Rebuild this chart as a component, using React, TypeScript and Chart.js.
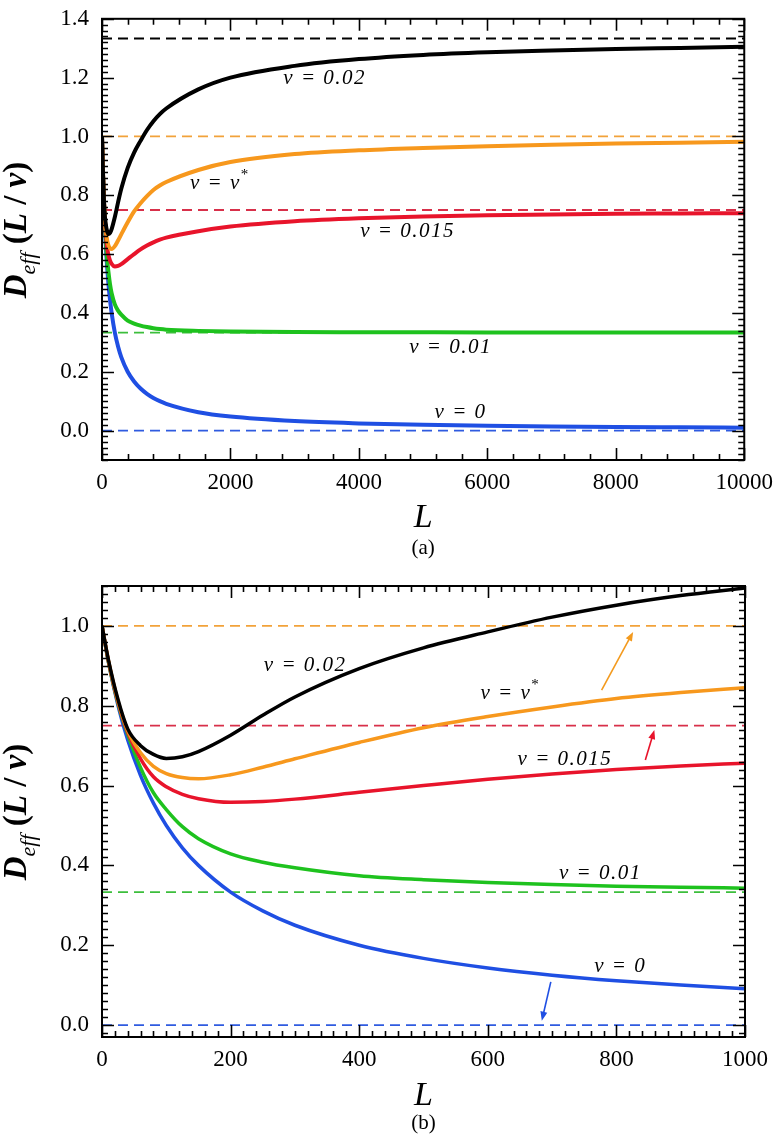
import React, { useEffect, useRef } from 'react';
import { Chart, registerables } from 'chart.js';

Chart.register(...registerables);

if (typeof document !== 'undefined') {
  document.body.style.margin = '0';
  document.body.style.overflow = 'hidden';
  document.body.style.background = '#ffffff';
}

const FONT = '"Liberation Serif", "Times New Roman", serif';

// L values (x) at which the curves were read
const L = [0, 10, 25, 40, 60, 80, 100, 125, 150, 200, 250, 300, 400, 500, 600, 700, 800, 900, 1000, 1500, 2000, 3000, 4000, 5000, 6000, 7000, 8000, 9000, 10000];

// D_eff(L / v) for each v
const nu002 = [1.0, 0.915, 0.815, 0.742, 0.700, 0.678, 0.668, 0.672, 0.685, 0.726, 0.776, 0.822, 0.893, 0.945, 0.985, 1.022, 1.052, 1.076, 1.095, 1.160, 1.200, 1.240, 1.263, 1.277, 1.286, 1.292, 1.297, 1.301, 1.305];
const nuStar = [1.0, 0.913, 0.811, 0.738, 0.682, 0.648, 0.630, 0.620, 0.617, 0.627, 0.646, 0.667, 0.708, 0.745, 0.773, 0.797, 0.818, 0.833, 0.845, 0.886, 0.913, 0.940, 0.953, 0.961, 0.967, 0.972, 0.976, 0.979, 0.982];
const nu0015 = [1.0, 0.912, 0.808, 0.733, 0.667, 0.622, 0.597, 0.578, 0.567, 0.558, 0.560, 0.566, 0.583, 0.600, 0.616, 0.629, 0.640, 0.649, 0.656, 0.678, 0.694, 0.712, 0.722, 0.728, 0.732, 0.735, 0.737, 0.738, 0.739];
const nu001 = [1.0, 0.910, 0.805, 0.728, 0.645, 0.582, 0.540, 0.497, 0.467, 0.429, 0.408, 0.394, 0.374, 0.364, 0.357, 0.352, 0.348, 0.345, 0.343, 0.339, 0.337, 0.335, 0.3345, 0.334, 0.3337, 0.3335, 0.3334, 0.3334, 0.3333];
const nu0 = [1.0, 0.909, 0.800, 0.714, 0.625, 0.556, 0.500, 0.444, 0.400, 0.333, 0.286, 0.250, 0.200, 0.167, 0.143, 0.125, 0.111, 0.100, 0.091, 0.0625, 0.0476, 0.0323, 0.0244, 0.0196, 0.0164, 0.0141, 0.0123, 0.0110, 0.0099];

const seriesValues = [nu002, nuStar, nu0015, nu001, nu0];
const seriesNames = ['ν = 0.02', 'ν = ν*', 'ν = 0.015', 'ν = 0.01', 'ν = 0'];
// long-L limits (dashed lines)
const asymptotes = [1.333, 1.0, 0.75, 0.333, 0.0];

const lineColors = ['#000000', '#F7981D', '#E8142B', '#1EC21E', '#1F4FE3'];
const dashColors = ['#000000', '#F2A23A', '#D8304A', '#3CBE3C', '#2F5BE0'];

const xTicksA = [0, 2000, 4000, 6000, 8000, 10000];
const yTicksA = [0, 0.2, 0.4, 0.6, 0.8, 1.0, 1.2, 1.4];
const xTicksB = [0, 200, 400, 600, 800, 1000];
const yTicksB = [0, 0.2, 0.4, 0.6, 0.8, 1.0];

type Panel = {
  xMax: number; yMin: number; yMax: number;
  xMajor: number; xMinor: number; yMajor: number; yMinor: number;
  xTicks: number[]; yTicks: number[];
  lineWidth: number; width: number; height: number; padTop: number; axisH: number;
  caption: string; titleBase: number; captionBase: number; yTitleCy: number;
  labelPos: number[][];
  arrows: { from: number[]; to: number[]; color: string }[];
};

const panelA: Panel = {
  xMax: 10000, yMin: -0.1, yMax: 1.4, xMajor: 2000, xMinor: 400, yMajor: 0.2, yMinor: 0.02,
  xTicks: xTicksA, yTicks: yTicksA, lineWidth: 4, width: 776, height: 560, padTop: 8, axisH: 100,
  caption: '(a)', titleBase: 527, captionBase: 554, yTitleCy: 230,
  labelPos: [[3468, 1.198], [1835, 0.839], [4759, 0.676], [5428, 0.284], [5583, 0.061]],
  arrows: [],
};

const panelB: Panel = {
  xMax: 1000, yMin: -0.03, yMax: 1.1, xMajor: 200, xMinor: 20, yMajor: 0.2, yMinor: 0.02,
  xTicks: xTicksB, yTicks: yTicksB, lineWidth: 3.5, width: 776, height: 579, padTop: 26, axisH: 102,
  caption: '(b)', titleBase: 545, captionBase: 569, yTitleCy: 252,
  labelPos: [[316, 0.901], [635, 0.83], [720, 0.665], [775, 0.379], [806, 0.146]],
  arrows: [
    { from: [777, 0.839], to: [826, 0.985], color: '#F39A1E' },
    { from: [845, 0.664], to: [859, 0.739], color: '#E8142B' },
    { from: [698, 0.108], to: [684, 0.011], color: '#1F4FE3' },
  ],
};

function drawYTitle(ctx: CanvasRenderingContext2D, cx: number, cy: number) {
  ctx.save();
  ctx.translate(cx, cy);
  ctx.rotate(-Math.PI / 2);
  ctx.fillStyle = '#000';
  ctx.textBaseline = 'alphabetic';
  ctx.textAlign = 'left';
  const bi = `bold italic 33px ${FONT}`;
  const b = `bold 33px ${FONT}`;
  const parts = [
    { t: 'D', f: bi, dy: 0 },
    { t: 'eff', f: `italic 22px ${FONT}`, dy: 9 },
    { t: ' (', f: b, dy: 0 },
    { t: 'L', f: bi, dy: 0 },
    { t: ' / ', f: b, dy: 0 },
    { t: 'ν', f: bi, dy: 0 },
    { t: ')', f: b, dy: 0 },
  ];
  let total = 0;
  const widths = parts.map((p) => { ctx.font = p.f; const w = ctx.measureText(p.t).width; total += w; return w; });
  let x = -total / 2;
  parts.forEach((p, i) => { ctx.font = p.f; ctx.fillText(p.t, x, p.dy); x += widths[i]; });
  ctx.restore();
}

function makeDecor(p: Panel) {
  return {
    id: 'decor',
    afterDatasetsDraw(chart: any) {
      const { ctx, chartArea: ca } = chart;
      const xs = chart.scales.x;
      const ys = chart.scales.y;
      ctx.save();
      // annotations
      ctx.fillStyle = '#000';
      ctx.textBaseline = 'middle';
      const anyCtx = ctx as any;
      seriesNames.forEach((name, i) => {
        const px = xs.getPixelForValue(p.labelPos[i][0]);
        const py = ys.getPixelForValue(p.labelPos[i][1]);
        anyCtx.letterSpacing = '1.5px';
        if (name.endsWith('*')) {
          const base = name.slice(0, -1);
          ctx.font = `italic 21px ${FONT}`;
          const w = ctx.measureText(base).width;
          ctx.font = `15px ${FONT}`;
          const ws = ctx.measureText('*').width;
          const x0 = px - (w + ws) / 2;
          ctx.textAlign = 'left';
          ctx.font = `italic 21px ${FONT}`;
          ctx.fillText(base, x0, py);
          ctx.font = `15px ${FONT}`;
          ctx.fillText('*', x0 + w, py - 9);
        } else {
          ctx.textAlign = 'center';
          ctx.font = `italic 21px ${FONT}`;
          ctx.fillText(name, px, py);
        }
        anyCtx.letterSpacing = '0px';
      });
      // arrows
      p.arrows.forEach((a) => {
        const x1 = xs.getPixelForValue(a.from[0]);
        const y1 = ys.getPixelForValue(a.from[1]);
        const x2 = xs.getPixelForValue(a.to[0]);
        const y2 = ys.getPixelForValue(a.to[1]);
        const ang = Math.atan2(y2 - y1, x2 - x1);
        ctx.strokeStyle = a.color;
        ctx.fillStyle = a.color;
        ctx.lineWidth = 1.6;
        ctx.beginPath();
        ctx.moveTo(x1, y1);
        ctx.lineTo(x2 - 6 * Math.cos(ang), y2 - 6 * Math.sin(ang));
        ctx.stroke();
        ctx.beginPath();
        ctx.moveTo(x2, y2);
        ctx.lineTo(x2 - 9 * Math.cos(ang) + 3.5 * Math.sin(ang), y2 - 9 * Math.sin(ang) - 3.5 * Math.cos(ang));
        ctx.lineTo(x2 - 9 * Math.cos(ang) - 3.5 * Math.sin(ang), y2 - 9 * Math.sin(ang) + 3.5 * Math.cos(ang));
        ctx.closePath();
        ctx.fill();
      });
      // ticks (inward, all four sides)
      ctx.strokeStyle = '#000';
      ctx.lineWidth = 1.6;
      ctx.beginPath();
      const kx1 = Math.floor(p.xMax / p.xMinor + 1e-9);
      for (let k = 0; k <= kx1; k++) {
        const v = k * p.xMinor;
        const r = v / p.xMajor;
        const major = Math.abs(r - Math.round(r)) < 1e-6;
        const len = major ? 12 : 6;
        const px = Math.round(xs.getPixelForValue(v)) + 0.5;
        ctx.moveTo(px, ca.bottom); ctx.lineTo(px, ca.bottom - len);
        ctx.moveTo(px, ca.top); ctx.lineTo(px, ca.top + len);
      }
      const ky0 = Math.ceil(p.yMin / p.yMinor - 1e-9);
      const ky1 = Math.floor(p.yMax / p.yMinor + 1e-9);
      for (let k = ky0; k <= ky1; k++) {
        const v = k * p.yMinor;
        const r = v / p.yMajor;
        const major = Math.abs(r - Math.round(r)) < 1e-6;
        const len = major ? 12 : 6;
        const py = Math.round(ys.getPixelForValue(v)) + 0.5;
        ctx.moveTo(ca.left, py); ctx.lineTo(ca.left + len, py);
        ctx.moveTo(ca.right, py); ctx.lineTo(ca.right - len, py);
      }
      ctx.stroke();
      // frame
      ctx.lineWidth = 2;
      ctx.strokeRect(ca.left, ca.top, ca.right - ca.left, ca.bottom - ca.top);
      // axis titles and caption
      ctx.fillStyle = '#000';
      ctx.textAlign = 'center';
      ctx.textBaseline = 'alphabetic';
      ctx.font = `italic 34px ${FONT}`;
      const midX = (ca.left + ca.right) / 2;
      ctx.fillText('L', midX, p.titleBase);
      ctx.font = `21px ${FONT}`;
      ctx.fillText(p.caption, midX, p.captionBase);
      drawYTitle(ctx, 26, p.yTitleCy);
      ctx.restore();
    },
  };
}

function buildConfig(p: Panel): any {
  const datasets: any[] = [];
  seriesValues.forEach((vals, i) => {
    const pts = L.map((x, j) => ({ x, y: vals[j] })).filter((d) => d.x <= p.xMax);
    datasets.push({
      label: seriesNames[i],
      data: pts,
      borderColor: lineColors[i],
      borderWidth: p.lineWidth,
      pointRadius: 0,
      cubicInterpolationMode: 'monotone',
      fill: false,
    });
  });
  asymptotes.forEach((a, i) => {
    datasets.push({
      label: 'limit ' + seriesNames[i],
      data: [{ x: 0, y: a }, { x: p.xMax, y: a }],
      borderColor: dashColors[i],
      borderWidth: 1.8,
      borderDash: [10, 6],
      pointRadius: 0,
      fill: false,
    });
  });
  return {
    type: 'line',
    data: { datasets },
    options: {
      responsive: false,
      animation: false,
      events: [],
      layout: { padding: { top: p.padTop, right: 31, left: 0, bottom: 0 } },
      plugins: { legend: { display: false }, tooltip: { enabled: false }, title: { display: false } },
      scales: {
        x: {
          type: 'linear', min: 0, max: p.xMax,
          grid: { display: false }, border: { display: false },
          afterBuildTicks: (s: any) => { s.ticks = p.xTicks.map((v) => ({ value: v })); },
          afterFit: (s: any) => { s.height = p.axisH; },
          ticks: {
            autoSkip: false, maxRotation: 0, padding: 3, color: '#000',
            font: { family: FONT, size: 23, lineHeight: 1 },
            callback: (v: any) => String(v),
          },
        },
        y: {
          type: 'linear', min: p.yMin, max: p.yMax,
          grid: { display: false }, border: { display: false },
          afterBuildTicks: (s: any) => { s.ticks = p.yTicks.map((v) => ({ value: v })); },
          afterFit: (s: any) => { s.width = 102; },
          ticks: {
            autoSkip: false, padding: 5, color: '#000',
            font: { family: FONT, size: 23 },
            callback: (v: any) => Number(v).toFixed(1),
          },
        },
      },
    },
    plugins: [makeDecor(p)],
  };
}

function Panel({ p, top }: { p: Panel; top: number }) {
  const ref = useRef<HTMLCanvasElement | null>(null);
  useEffect(() => {
    if (!ref.current) return;
    const chart = new Chart(ref.current, buildConfig(p));
    return () => chart.destroy();
  }, [p]);
  return (
    <canvas
      ref={ref}
      width={p.width}
      height={p.height}
      style={{ position: 'absolute', left: 0, top, width: p.width, height: p.height, display: 'block' }}
    />
  );
}

export default function App() {
  return (
    <div style={{ position: 'relative', width: 776, height: 1139, background: '#ffffff', overflow: 'hidden' }}>
      <Panel p={panelA} top={0} />
      <Panel p={panelB} top={560} />
    </div>
  );
}
